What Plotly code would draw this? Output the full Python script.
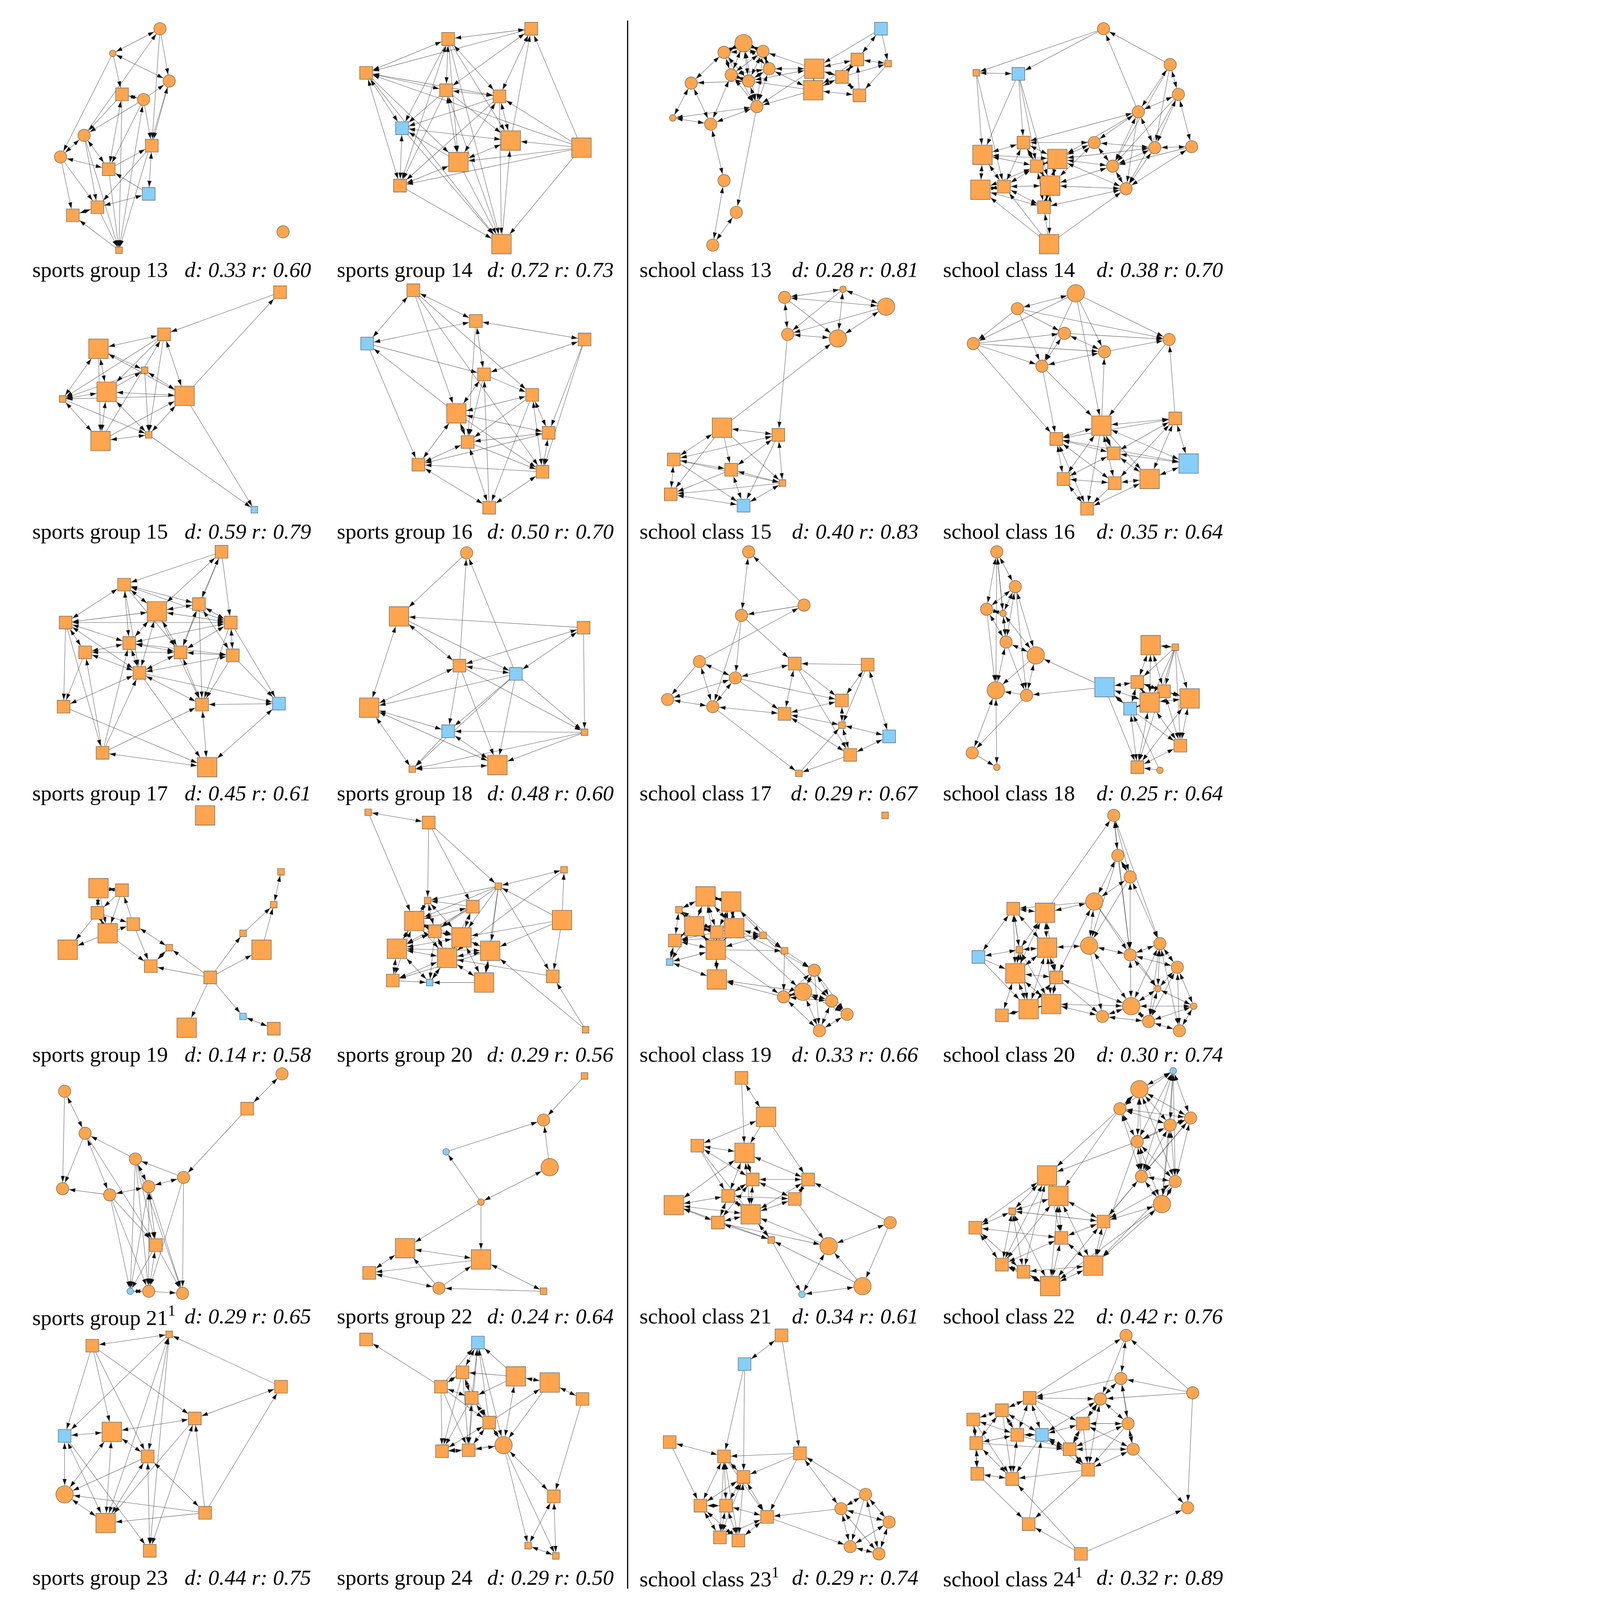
import math
import plotly.graph_objects as go

# ---------------------------------------------------------------------------
# network data: node layout coords (per panel), node code, directed edges
# node code: c/s = circle/square, upper case = second group (blue), digit = weight class
# edges: "a-b" reciprocal tie, "a>b" one-way tie
# ---------------------------------------------------------------------------

SG13_X = [156, 110, 165, 119, 140, 82, 148, 59, 106, 145, 95, 71, 116, 276]
SG13_Y = [28, 52, 79, 92, 97, 132, 142, 153, 165, 189, 202, 210, 244, 226]
SG13_NODES = "c2 c1 c2 s2 c2 c2 s2 c2 s2 S2 s2 s2 s1 c2"
SG13_EDGES = ("1>0 5>0 0>2 0>6 1>3 2-1 4>2 6>2 3-4 4>6 3>5 4>5 5-7 1>7 5-8 5>10 7-8 7>11 7>10 "
              "3-8 8>6 9>6 9>8 9-10 6>10 10-11 12>11 10>12 5>12 3>12 2>12 8>12 4>8 6>9 2>6 0>1 4-12")

SG14_X = [218, 137, 57, 135, 187, 92, 198, 267, 147, 90, 189]
SG14_Y = [28, 38, 71, 88, 94, 125, 137, 144, 158, 181, 238]
SG14_NODES = "s2 s2 s2 s2 s2 S2 s3 s3 s3 s2 s3"
SG14_EDGES = ("0-1 2-1 0>2 3-0 4-0 6>0 7>0 1-3 1-4 1>5 1>6 1>8 1-9 2-3 2-4 2-5 2>8 2-9 7>2 3-4 "
              "3>5 3>6 3-8 3>9 10>3 4>5 4-6 4-8 4>9 7>4 5-6 5-9 5>10 8>5 6-8 7>6 10>6 7>8 7>9 "
              "7>10 8-9 8>10 9>10 2>10 1>10 4>10")

SC13_X = [249, 115, 96, 134, 256, 226, 184, 140, 103, 120, 211, 183, 228, 64, 128, 46, 83, 96, 108, 85]
SC13_Y = [28, 42, 51, 50, 62, 58, 67, 67, 73, 79, 75, 88, 93, 81, 104, 115, 121, 176, 207, 239]
SC13_NODES = "S2 c3 c2 c2 s1 s2 s3 c2 c2 c2 s2 s3 s2 c2 c2 c1 c2 c2 c2 c2"
SC13_EDGES = ("1-2 1-3 1-7 1-8 1-9 2-8 2-9 3-7 3-9 7-8 7-9 8-9 2-3 3-8 7-14 8-14 9-14 1-14 2-13 "
              "13-9 13-16 13-15 16-15 14-15 16-14 16-8 16-17 17-19 14>18 18-19 6-7 6-9 6>3 6-10 "
              "6-5 6-11 11>9 11>14 11-10 11-12 10-5 10-12 5-4 4>12 0>4 0-5 0>6 12>5 10>4 11>7 "
              "6>14 2>14 3>14 5>11 7>11")

SC14_X = [166, 231, 42, 83, 239, 200, 88, 157, 216, 252, 48, 121, 101, 175, 46, 69, 114, 188, 108, 113]
SC14_Y = [28, 63, 71, 72, 92, 109, 139, 139, 144, 143, 151, 155, 162, 162, 185, 182, 181, 184, 202, 238]
SC14_NODES = "c2 c2 s1 S2 c2 c2 s2 c2 c2 c2 s3 s3 s2 c2 s3 s2 s3 c2 s2 s3"
SC14_EDGES = ("0>2 0>3 1>0 5>0 1-4 1-5 1>8 1>13 4-5 4-9 4-8 4>17 4>13 5-7 5-8 5-13 5>17 5>11 "
              "6-5 2-3 2>10 2>15 3>6 3>10 3>12 3>16 6-7 6-10 6-11 6-12 6-15 6-16 7-8 7-11 7-13 "
              "7-16 8-9 8-11 8-13 8-17 9-17 9>13 10-12 10-14 10-15 10-11 11-12 11-16 11-13 11-17 "
              "12-15 12-16 12-14 13-16 13-17 14-15 15-16 15-18 16-17 16-18 16-19 17-18 19>14 "
              "19>18 19>17 19>15 12-18 14-18")

SG15_X = [273, 160, 96, 141, 61, 104, 180, 98, 145, 248]
SG15_Y = [29, 70, 84, 105, 133, 126, 130, 174, 168, 241]
SG15_NODES = "s2 s2 s3 s1 s1 s3 s3 s3 s1 S1"
SG15_EDGES = ("0>1 6>0 6>9 8>9 1-2 1>4 1>5 1>8 7>1 2-4 2-5 2>3 6>2 3>4 3-6 5>3 3>8 4-5 4-7 "
              "6>4 4>8 5-6 5-7 5-8 6-1 7>6 7-8 8-6 2>7")

SG16_X = [103, 164, 58, 270, 172, 219, 145, 235, 156, 108, 229, 177]
SG16_Y = [27, 57, 79, 75, 109, 129, 147, 166, 175, 197, 204, 239]
SG16_NODES = "s2 s2 S2 s2 s2 s2 s3 s2 s2 s2 s2 s2"
SG16_EDGES = ("0-1 0-2 1-2 1-3 2>4 3-4 1-4 0>6 0>5 0>10 2>9 6>2 3>10 3>7 4-6 4>5 4>8 5-6 5-7 "
              "5>8 5>11 6-9 6-7 6-8 6>10 7-8 7-10 7>9 8-9 8>10 8-11 9-11 10-11 10>9 11>4 5-10 1>8")

SC15_X = [155, 212, 254, 158, 207, 94, 149, 47, 103, 153, 44, 115]
SC15_Y = [34, 26, 43, 70, 74, 161, 168, 192, 202, 215, 226, 237]
SC15_NODES = "c2 c1 c3 c2 c3 s3 s2 s2 s2 s1 s2 S2"
SC15_EDGES = ("0-1 0-2 0-3 0>4 1-2 1-4 1>3 2-4 2>3 3-4 3>6 5>4 5-6 5-7 5>8 5>9 6-7 6-8 6-9 "
              "6>11 7-8 7-10 7>11 7>9 8-9 8>10 8-11 9-11 10-11 9>10 5>10")

SC16_X = [139, 82, 128, 39, 230, 167, 106, 164, 236, 120, 176, 249, 127, 177, 211, 150]
SC16_Y = [30, 45, 69, 79, 75, 87, 101, 159, 152, 172, 186, 196, 211, 215, 211, 240]
SC16_NODES = "c3 c2 c2 c2 c2 c2 c2 s3 s2 s2 s2 S3 s2 s2 s3 s2"
SC16_EDGES = ("0-1 0>3 0>4 0>5 0>6 1>3 1>2 1>4 1>6 3>2 3>5 3>6 3>9 2-5 2>4 2-6 5>4 5-6 4>7 "
              "8>4 0>7 7>5 6>7 6>9 7-9 7-8 7-10 7-12 7-13 7>14 8-9 8-10 8-11 8-14 8-13 9-10 "
              "9-12 9-13 9-15 10-11 10-12 10-14 11-14 11-9 12-13 12-15 13-14 14-15 13>15 7>15 11-7")

SG17_X = [216, 121, 153, 194, 64, 225, 126, 83, 176, 227, 136, 62, 197, 272, 100, 202]
SG17_Y = [26, 58, 84, 77, 95, 95, 115, 124, 124, 127, 144, 177, 175, 174, 222, 236]
SG17_NODES = "s2 s2 s3 s2 s2 s2 s2 s2 s2 s2 s2 s2 s2 S2 s2 s3"
SG17_EDGES = ("0>1 0-3 0-2 0>5 0>8 1-4 1-2 1-3 1-5 1-6 1>10 1>8 2-3 2-4 2-5 2-6 2-8 2-10 3-5 "
              "3-8 3-9 3>12 4-5 4-6 4-7 4-10 4>11 4>14 5-6 5-9 5-8 5>12 5>13 6-7 6-8 6-10 6-9 "
              "7-8 7-10 7>11 8-9 8-10 8-12 9-10 9>13 9>12 10-11 10-12 10>15 10>13 11>15 12-13 "
              "12-15 13-15 14-15 14>6 14>10 14>12 14>7 2>12")

SG18_X = [155, 89, 269, 148, 203, 270, 60, 137, 102, 185]
SG18_Y = [27, 89, 100, 137, 145, 202, 178, 201, 238, 234]
SG18_NODES = "c2 s3 s2 s2 S2 s1 s3 S2 s1 s3"
SG18_EDGES = ("0>1 3>0 4>0 2>1 1-3 1-6 1>4 2-3 2-4 2>5 3-4 3>6 3>7 3>9 3>5 4>6 4>7 4>9 4>5 "
              "4>8 6-7 6-9 6-8 7-9 7>8 5>7 5>8 5>9 9-8 6>3")

SC17_X = [120, 174, 113, 72, 165, 236, 107, 41, 85, 211, 155, 211, 257, 219, 169]
SC17_Y = [26, 78, 88, 133, 135, 136, 149, 170, 177, 171, 184, 195, 206, 224, 242]
SC17_NODES = "c2 c2 c2 c2 s2 s2 c2 c2 c2 s2 s2 s1 S2 s2 s1"
SC17_EDGES = ("0-2 1>0 1>2 3>1 2>4 2>8 2>6 3-6 3-8 3>7 6-4 6-7 6-8 6>9 6>10 7-8 8-10 8>14 "
              "4-10 4>13 4>9 5>4 5-9 5-12 9-10 9-11 10-11 10-13 11-13 11-12 13-12 13>14 14>11 5>11")

SC18_X = [62, 80, 52, 68, 71, 100, 212, 236, 167, 199, 225, 250, 211, 192, 61, 91, 241, 38, 62, 199, 221]
SC18_Y = [26, 60, 82, 86, 114, 127, 117, 119, 158, 153, 162, 169, 173, 179, 161, 166, 215, 222, 236, 236, 239]
SC18_NODES = "c2 c2 c2 c1 c2 c3 s3 s1 S3 s2 s2 s3 s3 S2 c3 c2 s2 c2 c1 s2 c1"
SC18_EDGES = ("0-1 0-2 0-3 0>4 0>14 1-2 1-3 1-4 1-5 1>15 2-3 2-4 2>14 3-4 3-5 4-5 4-14 4>15 "
              "5-15 5>14 8>5 8>15 15>14 14-17 14-18 17>18 15>17 6-7 6-9 6-12 7>9 7>10 7>12 "
              "7>11 7>16 7>19 8-9 8-12 8-13 8>19 9-10 9-12 9-13 9-11 10-12 10-11 10-16 11-12 "
              "11-16 12-13 12-16 12-19 13-19 13>16 16-19 20>19 20>13 11-19 6-10")

SG19_X = [200, 274, 96, 119, 267, 95, 130, 105, 237, 255, 165, 66, 147, 205, 237, 182, 267]
SG19_Y = [27, 82, 98, 100, 114, 122, 133, 142, 142, 158, 156, 158, 174, 185, 223, 234, 235]
SG19_NODES = "s3 s1 s3 s2 s1 s2 s2 s3 s1 s3 s1 s3 s2 s2 S1 s3 s2"
SG19_EDGES = ("2-3 2-5 6>3 3>5 5-7 5>6 7>6 5>11 7>11 7>12 6>12 6-10 10-12 13>12 13>10 13>8 "
              "8>4 13>9 9>4 1-4 13>15 13>14 14-16 3>7 2>7")

SG20_X = [59, 118, 250, 186, 117, 161, 248, 104, 124, 150, 87, 178, 136, 83, 119, 172, 239, 271]
SG20_Y = [24, 34, 80, 96, 110, 116, 129, 130, 140, 146, 157, 159, 166, 188, 190, 190, 184, 236]
SG20_NODES = "s1 s2 s1 s1 s1 s2 s3 s3 s2 s3 s3 s3 s3 s2 S1 s3 s2 s1"
SG20_EDGES = ("0-1 0>7 1>4 1>3 1>5 3-2 3>4 3>7 3>9 3>11 3>8 3>15 2>12 6>11 6>9 6>2 6>16 3>16 "
              "16>12 17>16 17>11 5>4 5-7 5-9 5>8 5>10 5>12 4-7 4-8 4>10 4-9 7-8 7-10 7-9 7-12 "
              "7-13 8-9 8-10 8-12 8>14 9-10 9-11 9-12 9>14 10-12 10-11 10-13 10-14 11-12 11-15 "
              "11>13 12-13 12-15 12-14 13>14 15>14 15-9 6>3")

SC19_X = [253, 78, 103, 52, 67, 89, 106, 134, 48, 88, 155, 43, 184, 89, 173, 154, 201, 216, 189]
SC19_Y = [27, 106, 111, 119, 135, 141, 137, 144, 149, 158, 159, 170, 178, 187, 199, 204, 208, 221, 237]
SC19_NODES = "s1 s3 s3 s1 s3 s2 s3 s1 s2 s3 s1 S1 c2 s3 c3 c2 c2 c2 c2"
SC19_EDGES = ("1-2 1-3 1-4 1-5 1-6 1-9 2-5 2-6 2-7 2-9 2>10 3-4 3-8 3-5 4-5 4-6 4-8 4-9 4-11 "
              "5-6 5-9 5>8 5-13 6-7 6-9 6>12 7-9 7>10 7-8 8-9 8-11 9-11 9-13 9>10 11-13 10>15 "
              "10>12 12-14 12-15 12-16 12>18 12>17 14-15 14-16 14-17 14-18 15-18 15-16 16-17 "
              "16-18 17-18 15>13 14>13 7>16 6>14 9>15")

SC20_X = [176, 180, 192, 157, 78, 109, 152, 84, 111, 44, 221, 192, 238, 80, 120, 219, 193, 254, 115, 93, 67, 165, 210, 240]
SC20_Y = [27, 66, 87, 111, 118, 122, 154, 158, 156, 165, 152, 163, 175, 181, 185, 196, 213, 213, 211, 216, 222, 223, 228, 237]
SC20_NODES = "c2 c2 c2 c3 s2 s3 c3 s1 s3 S2 c2 c2 c2 s3 s2 c1 c3 c1 s3 s3 s2 c2 c2 c2"
SC20_EDGES = ("0-1 0-2 0>11 0>10 5>0 1-2 1-3 1>6 1>11 2-3 2-11 2-10 2>6 3-5 3>4 3-6 3>11 3-14 "
              "3>15 4-5 4-7 4-13 4-8 4>19 5-8 5-7 5-13 5-14 6-8 6-11 6-16 6>21 7-8 7-13 7-19 "
              "7-18 8-13 8-14 8-18 8-19 9-4 9-7 9>13 9>19 10-11 10-12 10-15 10-16 10-22 10-23 "
              "11-12 11-16 11-15 12-15 12-17 12-23 13-14 13-19 13-18 13-20 14-18 14-19 14-16 "
              "15-16 15-22 15-17 16-18 16-22 16-21 16-17 17-23 17-22 18-19 19-20 21-18 21-22 "
              "22-23 12-22 14>21")

SG21_X = [275, 63, 241, 83, 132, 179, 145, 61, 107, 152, 127, 145, 178]
SG21_Y = [23, 40, 57, 81, 106, 124, 133, 135, 141, 190, 235, 235, 237]
SG21_NODES = "c2 c2 s2 c2 c2 c2 c2 c2 c2 s2 C1 c2 c2"
SG21_EDGES = ("0-2 2>5 1-3 1>7 3>7 3-8 3>9 4>3 5>4 4-6 4>10 4>11 4>9 5-6 5>12 5>11 6-8 6-9 "
              "6-11 6>12 6>10 8>7 8>11 8>10 9-11 9>10 9>12 11-10 11>12 4>12 8>9")

SG22_X = [270, 230, 135, 236, 169, 95, 169, 60, 128, 230]
SG22_Y = [25, 68, 99, 114, 148, 193, 204, 217, 232, 235]
SG22_NODES = "s1 c2 C1 c3 c1 s3 s3 s2 c2 s1"
SG22_EDGES = "0>1 2>1 3>1 4>2 3-4 4>5 4>6 5-6 5-7 6>7 7-8 8>5 8>6 9>8 6-9"

SC21_X = [113, 137, 70, 116, 124, 178, 100, 47, 165, 122, 90, 258, 142, 198, 231, 172]
SC21_Y = [27, 65, 93, 100, 126, 126, 142, 151, 145, 160, 168, 168, 185, 191, 230, 238]
SC21_NODES = "s2 s3 s2 s3 s2 s2 s2 s3 s2 s3 s2 c2 s1 c3 c3 C1"
SC21_EDGES = ("0-1 0>3 1-2 1>3 1>5 2-3 2-4 2>6 2>12 3-4 3-5 3-6 3-7 3-9 4-5 4-6 4-8 4-9 4-10 "
              "5-8 5-9 11>5 6-7 6-9 6-8 6-10 7-9 7-10 7-12 8-9 8>13 9-10 9-12 10-12 10>13 13>9 "
              "11-13 11>14 12>15 13-15 14-15 14>12 14>13")

SC22_X = [234, 201, 182, 251, 231, 199, 111, 203, 236, 122, 223, 77, 166, 41, 125, 156, 67, 88, 114]
SC22_Y = [20, 38, 57, 66, 73, 89, 122, 123, 128, 142, 150, 157, 167, 173, 183, 210, 209, 216, 230]
SC22_NODES = "C1 c3 c2 c2 c2 c2 s3 c2 c2 s3 c3 s1 s2 s2 s2 s3 s2 s2 s3"
SC22_EDGES = ("0-1 0-2 0-3 0-4 0-5 0-7 0-8 0>10 1-2 1-3 1-4 1-5 1-7 1-8 2-3 2-4 2-5 2-7 2>6 "
              "2>9 3-4 3-5 3-7 3-8 4-5 4-7 4-8 4-10 5-7 5-8 5-10 5>6 5>15 7-8 7-10 7-12 8-10 "
              "8-12 10-12 10-15 10>18 6-9 6-11 6-13 6-14 6-16 6-17 9-11 9-12 9-14 9-15 9-18 "
              "9-16 11-13 11-12 11-16 11-17 11-18 12-14 12-15 12-18 13-16 13-17 13-14 14-15 "
              "14-18 14-16 15-18 16-17 17-18 16-18 17-15 3>12 8>15")

SG23_X = [165, 90, 274, 190, 109, 63, 144, 63, 200, 103, 146]
SG23_Y = [21, 32, 72, 103, 116, 120, 140, 177, 195, 205, 232]
SG23_NODES = "s1 s2 s2 s2 s3 S2 s2 c3 s2 s3 s2"
SG23_EDGES = ("0-1 2>0 0>5 0-6 0>10 0-9 1>5 1>4 1>3 1>6 2-3 8>2 3-4 3>9 3-10 4-5 4-9 4-6 5-7 "
              "5-9 5>10 6>7 6-9 6-8 6-10 8>7 8>9 7-9 4-7 8>3")

SG24_X = [57, 166, 151, 203, 130, 236, 160, 268, 177, 191, 131, 157, 240, 215, 242]
SG24_Y = [26, 29, 58, 62, 72, 68, 83, 84, 107, 129, 135, 134, 179, 227, 237]
SG24_NODES = "s2 S2 s2 s3 s2 s3 s2 s2 s2 c3 s2 s2 s2 s1 s1"
SG24_EDGES = ("4>0 2-1 4>1 6>1 8>1 3>1 11>1 3>2 2-4 2-6 2>8 2>10 2>11 3-5 3>6 3>9 9>3 5-7 5>9 "
              "4-6 4>10 4>11 4>8 6-8 6>10 6-11 8-9 8-10 8-11 9-11 11-10 9>10 9-12 9>13 9>14 "
              "7>12 12-13 12-14 13-14 8>5 1>9")

SC23_X = [152, 116, 43, 96, 170, 115, 234, 73, 98, 210, 138, 257, 92, 110, 219, 247]
SC23_Y = [22, 50, 126, 140, 137, 160, 177, 188, 188, 191, 199, 204, 219, 222, 228, 235]
SC23_NODES = "s2 S2 s2 s2 s2 s2 c2 s2 s2 c2 s2 c2 s2 s2 c2 c2"
SC23_EDGES = ("1-0 0>4 1>3 1>5 2-3 2>7 4>3 4>5 4>10 4-9 6>4 3-5 3-7 3-8 3-12 3-13 3>10 5-7 5-8 "
              "5-10 5-13 5-12 7-8 7-12 7-13 8-12 8-13 8-10 10-13 10-12 10>14 9>10 6-9 6-11 9-11 "
              "9-14 6-15 9-15 11-14 11-15 14-15 6>14")

SC24_X = [188, 183, 253, 94, 163, 67, 39, 146, 190, 82, 106, 42, 133, 195, 151, 43, 77, 248, 93, 144]
SC24_Y = [22, 64, 78, 83, 84, 95, 104, 108, 108, 119, 119, 127, 133, 133, 153, 157, 162, 190, 206, 235]
SC24_NODES = "c2 c2 c2 s2 c2 s2 s2 s2 c2 s2 S2 s2 s2 c2 s2 s2 s2 c2 s2 s2"
SC24_EDGES = ("3>0 0-1 2>0 0>4 2>1 1-4 1>3 1-8 1-13 2>4 2>17 3-4 3-5 3-9 3-10 3>7 3>14 4-7 4-8 "
              "4-12 4-10 4-14 5-6 5-9 5-10 5-11 5>16 6-9 6-11 6>15 7-8 7-10 7-12 7-13 7>14 8-13 "
              "8-12 8>14 9-10 9-11 9-16 9>12 10-12 10-14 10>16 11-15 11-16 11>12 12-13 12-14 "
              "13-14 13>17 14>16 15-16 15>18 19>18 18>10 19>16 19>17 14>18 6>16")

# captions: (name, density d, reciprocity r) in reading order, four per row
PANELS = [
    ("sports group 13", "0.33", "0.60", SG13_X, SG13_Y, SG13_NODES, SG13_EDGES),
    ("sports group 14", "0.72", "0.73", SG14_X, SG14_Y, SG14_NODES, SG14_EDGES),
    ("school class 13", "0.28", "0.81", SC13_X, SC13_Y, SC13_NODES, SC13_EDGES),
    ("school class 14", "0.38", "0.70", SC14_X, SC14_Y, SC14_NODES, SC14_EDGES),
    ("sports group 15", "0.59", "0.79", SG15_X, SG15_Y, SG15_NODES, SG15_EDGES),
    ("sports group 16", "0.50", "0.70", SG16_X, SG16_Y, SG16_NODES, SG16_EDGES),
    ("school class 15", "0.40", "0.83", SC15_X, SC15_Y, SC15_NODES, SC15_EDGES),
    ("school class 16", "0.35", "0.64", SC16_X, SC16_Y, SC16_NODES, SC16_EDGES),
    ("sports group 17", "0.45", "0.61", SG17_X, SG17_Y, SG17_NODES, SG17_EDGES),
    ("sports group 18", "0.48", "0.60", SG18_X, SG18_Y, SG18_NODES, SG18_EDGES),
    ("school class 17", "0.29", "0.67", SC17_X, SC17_Y, SC17_NODES, SC17_EDGES),
    ("school class 18", "0.25", "0.64", SC18_X, SC18_Y, SC18_NODES, SC18_EDGES),
    ("sports group 19", "0.14", "0.58", SG19_X, SG19_Y, SG19_NODES, SG19_EDGES),
    ("sports group 20", "0.29", "0.56", SG20_X, SG20_Y, SG20_NODES, SG20_EDGES),
    ("school class 19", "0.33", "0.66", SC19_X, SC19_Y, SC19_NODES, SC19_EDGES),
    ("school class 20", "0.30", "0.74", SC20_X, SC20_Y, SC20_NODES, SC20_EDGES),
    ("sports group 21<sup>1</sup>", "0.29", "0.65", SG21_X, SG21_Y, SG21_NODES, SG21_EDGES),
    ("sports group 22", "0.24", "0.64", SG22_X, SG22_Y, SG22_NODES, SG22_EDGES),
    ("school class 21", "0.34", "0.61", SC21_X, SC21_Y, SC21_NODES, SC21_EDGES),
    ("school class 22", "0.42", "0.76", SC22_X, SC22_Y, SC22_NODES, SC22_EDGES),
    ("sports group 23", "0.44", "0.75", SG23_X, SG23_Y, SG23_NODES, SG23_EDGES),
    ("sports group 24", "0.29", "0.50", SG24_X, SG24_Y, SG24_NODES, SG24_EDGES),
    ("school class 23<sup>1</sup>", "0.29", "0.74", SC23_X, SC23_Y, SC23_NODES, SC23_EDGES),
    ("school class 24<sup>1</sup>", "0.32", "0.89", SC24_X, SC24_Y, SC24_NODES, SC24_EDGES),
]

# ---------------------------------------------------------------------------
# layout
# ---------------------------------------------------------------------------
W, H = 4304, 5504
UW, UH = 1220, 1560           # layout units
PX = W / UW                   # pixels per unit
COL_X = [0, 300, 610, 910]
ROW_H = 256
CAP_Y0, CAP_DY = 263, 255
CAP_LEFT = [31, 328, 623, 919]
CAP_RIGHT = [304, 599, 896, 1193]
DIAM = {("c", 1): 6.5, ("c", 2): 12, ("c", 3): 17,
        ("s", 1): 6.5, ("s", 2): 12.5, ("s", 3): 19}
ORANGE = "#FFA54F"
BLUE = "#87CEFA"
FONT = "Liberation Serif"

edge_x, edge_y = [], []
arr_x, arr_y, arr_a = [], [], []
nodes = {"c": ([], [], [], []), "s": ([], [], [], [])}
annotations = []

for k, (name, d, r, xs, ys, codes, edges) in enumerate(PANELS):
    row, col = divmod(k, 4)
    ox, oy = COL_X[col], ROW_H * row
    px = [ox + v for v in xs]
    py = [oy + v for v in ys]
    info = []
    for code in codes.split():
        shape = code[0].lower()
        info.append((shape, code[0].isupper(), DIAM[(shape, int(code[1]))]))

    directed = []
    for tok in edges.split():
        if "-" in tok:
            a, b = map(int, tok.split("-"))
            directed += [(a, b), (b, a)]
        else:
            a, b = map(int, tok.split(">"))
            directed.append((a, b))
    directed = list(dict.fromkeys(directed))

    drawn = set()
    for a, b in directed:
        pair = (min(a, b), max(a, b))
        if pair not in drawn:
            drawn.add(pair)
            edge_x += [px[a], px[b], None]
            edge_y += [py[a], py[b], None]
        dx, dy = px[b] - px[a], py[b] - py[a]
        ln = math.hypot(dx, dy)
        ux, uy = dx / ln, dy / ln
        shape, _, dia = info[b]
        half = dia / 2
        if shape == "s":
            half = half / max(abs(ux), abs(uy))
        arr_x.append(px[b] - ux * (half + 0.5))
        arr_y.append(py[b] - uy * (half + 0.5))
        arr_a.append(math.degrees(math.atan2(ux, -uy)))

    for i, (shape, blue, dia) in enumerate(info):
        nx, ny, ns, nc = nodes[shape]
        nx.append(px[i])
        ny.append(py[i])
        ns.append(dia * PX)
        nc.append(BLUE if blue else ORANGE)

    cy = CAP_Y0 + CAP_DY * row
    annotations.append(dict(x=CAP_LEFT[col], y=cy, text=name, xanchor="left",
                            yanchor="middle", showarrow=False))
    annotations.append(dict(x=CAP_RIGHT[col], y=cy, text=f"<i>d: {d} r: {r}</i>",
                            xanchor="right", yanchor="middle", showarrow=False))

fig = go.Figure()
fig.add_trace(go.Scatter(x=edge_x, y=edge_y, mode="lines", hoverinfo="skip",
                         line=dict(color="rgba(30,30,30,0.72)", width=1.4)))
fig.add_trace(go.Scatter(x=arr_x, y=arr_y, mode="markers", hoverinfo="skip",
                         marker=dict(symbol="arrow", size=22, angle=arr_a, color="#111111",
                                     line=dict(width=0))))
for shape, sym in (("c", "circle"), ("s", "square")):
    nx, ny, ns, nc = nodes[shape]
    fig.add_trace(go.Scatter(x=nx, y=ny, mode="markers", hoverinfo="skip",
                             marker=dict(symbol=sym, size=ns, color=nc, opacity=1,
                                         line=dict(color="#555555", width=1.5))))

fig.add_shape(type="line", x0=612, x1=612, y0=20, y1=1549, xref="x", yref="y",
              line=dict(color="black", width=4))

fig.update_layout(
    width=W, height=H,
    margin=dict(l=0, r=0, t=0, b=0),
    paper_bgcolor="white", plot_bgcolor="white",
    showlegend=False,
    font=dict(family=FONT, size=75, color="black"),
    annotations=annotations,
    xaxis=dict(range=[0, UW], visible=False, fixedrange=True),
    yaxis=dict(range=[UH, 0], visible=False, fixedrange=True),
)

# fit the fixed-size figure into the visible browser viewport
FIT = """
var gd = document.getElementById('{plot_id}');
document.documentElement.style.overflow = 'hidden';
document.body.style.overflow = 'hidden';
document.body.style.margin = '0';
var s = Math.min(window.innerWidth / %d, window.innerHeight / %d);
gd.style.transformOrigin = '0 0';
gd.style.transform = 'scale(' + s + ')';
""" % (W, H)

fig.write_html("out.html", post_script=FIT, config={"displayModeBar": False})
